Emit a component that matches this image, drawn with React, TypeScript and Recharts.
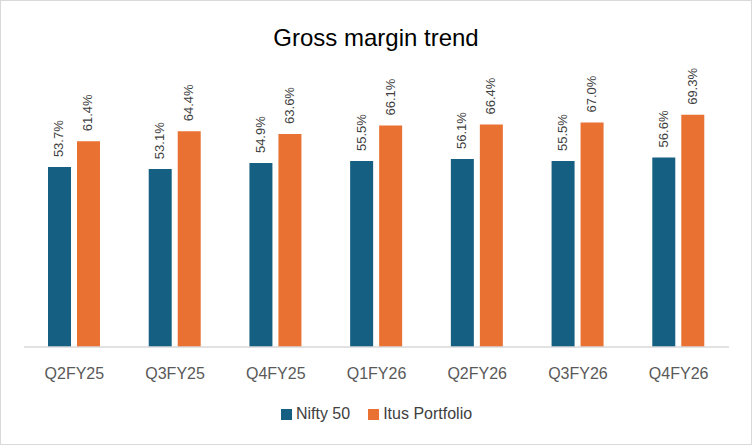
import React from "react";
import { BarChart, Bar, XAxis, YAxis, Legend, LabelList } from "recharts";

// Quarters and gross margin (%) per series
const quarters = ["Q2FY25", "Q3FY25", "Q4FY25", "Q1FY26", "Q2FY26", "Q3FY26", "Q4FY26"];
const nifty50 = [53.7, 53.1, 54.9, 55.5, 56.1, 55.5, 56.6];
const itusPortfolio = [61.4, 64.4, 63.6, 66.1, 66.4, 67.0, 69.3];

const data = quarters.map((q, i) => ({
  quarter: q,
  nifty: nifty50[i],
  itus: itusPortfolio[i],
}));

const FONT = "'Liberation Sans', Arial, sans-serif";

const legendItems = [
  { name: "Nifty 50", color: "#156082" },
  { name: "Itus Portfolio", color: "#e97132" },
];

// rotated value label sitting above each bar
function VerticalLabel(props: any) {
  const { x, y, width, value } = props;
  const cx = x + width / 2 + 4;
  const cy = y - 10;
  return (
    <text
      x={cx}
      y={cy}
      transform={`rotate(-90, ${cx}, ${cy})`}
      textAnchor="start"
      fontSize={13}
      fontFamily={FONT}
      fill="#404040"
    >
      {value.toFixed(1)}%
    </text>
  );
}

// legend kept in series order (recharts sorts by name otherwise)
function LegendBox() {
  return (
    <div
      style={{
        display: "flex",
        justifyContent: "center",
        alignItems: "center",
        height: 48,
        paddingTop: 6,
        boxSizing: "border-box",
        fontSize: 16,
        fontFamily: FONT,
        color: "#404040",
      }}
    >
      {legendItems.map((it) => (
        <span key={it.name} style={{ display: "flex", alignItems: "center", margin: "0 9px" }}>
          <span style={{ width: 11, height: 11, background: it.color, marginRight: 4 }} />
          {it.name}
        </span>
      ))}
    </div>
  );
}

export default function App() {
  return (
    <div
      style={{
        position: "fixed",
        left: 0,
        top: 0,
        width: 752,
        height: 445,
        background: "#fff",
        border: "1px solid #d9d9d9",
        boxSizing: "border-box",
        fontFamily: FONT,
      }}
    >
      <div
        style={{
          position: "absolute",
          top: 23,
          left: 0,
          width: "100%",
          textAlign: "center",
          fontSize: 24,
          color: "#000",
        }}
      >
        Gross margin trend
      </div>
      <div style={{ position: "absolute", left: -1, top: -1 }}>
        <BarChart
          width={752}
          height={445}
          data={data}
          margin={{ top: 79, right: 23, left: 24, bottom: 10 }}
          barGap={6}
          barCategoryGap="24%"
        >
          <XAxis
            dataKey="quarter"
            tickLine={false}
            axisLine={{ stroke: "#d9d9d9", strokeWidth: 1.5 }}
            tick={{ fill: "#595959", fontSize: 16, fontFamily: FONT }}
            tickMargin={15}
            height={40}
          />
          <YAxis hide domain={[0, 80]} />
          <Legend content={<LegendBox />} wrapperStyle={{ height: 48 }} />
          <Bar dataKey="nifty" name="Nifty 50" fill="#156082" barSize={23} isAnimationActive={false}>
            <LabelList dataKey="nifty" content={<VerticalLabel />} />
          </Bar>
          <Bar dataKey="itus" name="Itus Portfolio" fill="#e97132" barSize={23} isAnimationActive={false}>
            <LabelList dataKey="itus" content={<VerticalLabel />} />
          </Bar>
        </BarChart>
      </div>
    </div>
  );
}
